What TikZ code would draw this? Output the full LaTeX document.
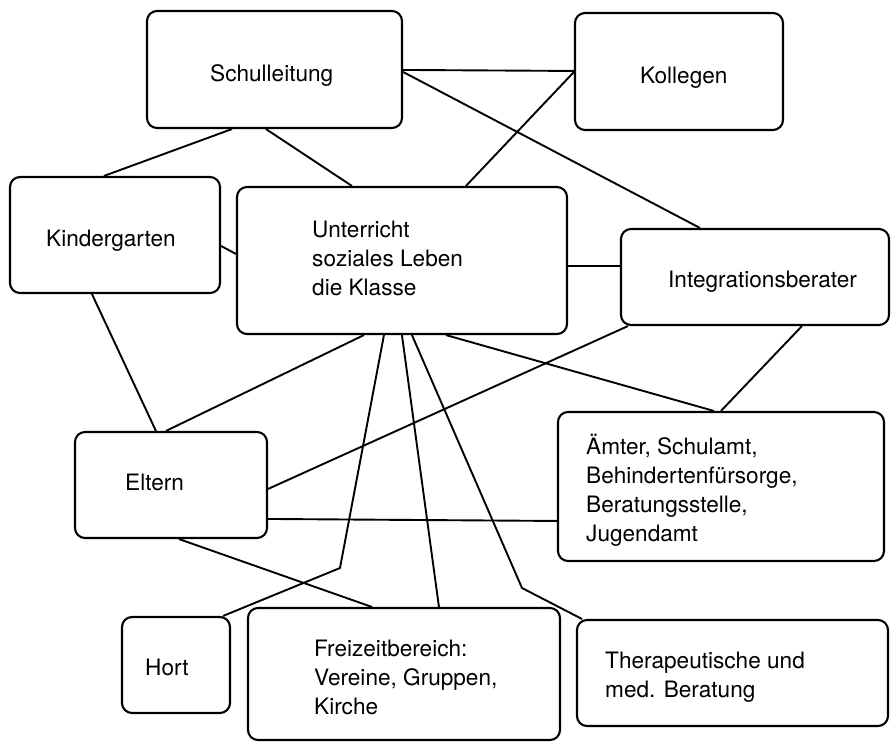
\documentclass[tikz,border=0pt]{standalone}
\usepackage{fontspec}
\setmainfont{TeX Gyre Heros}
\begin{document}
\begin{tikzpicture}[x=1pt,y=-1pt,
  box/.style={draw, line width=2.1pt, rounded corners=10pt, inner sep=0pt},
  lbl/.style={inner sep=0pt, align=left, anchor=base west,
    font=\fontsize{22.6}{28.7}\selectfont},
  link/.style={line width=1.9pt}]
% canvas
\fill[white] (0,0) rectangle (891,742);
\useasboundingbox (0,0) rectangle (891,742);

% boxes
\node[box, minimum width=255pt, minimum height=117pt] (schul)  at (274.5,69.5) {};
\node[box, minimum width=208pt, minimum height=117pt] (koll)   at (679,71.5) {};
\node[box, minimum width=210pt, minimum height=116pt] (kind)   at (115,235) {};
\node[box, minimum width=330pt, minimum height=147pt] (unt)    at (402,260.5) {};
\node[box, minimum width=268pt, minimum height=96pt]  (integ)  at (755,277) {};
\node[box, minimum width=192pt, minimum height=106pt] (eltern) at (171,485) {};
\node[box, minimum width=326pt, minimum height=149pt] (aemter) at (721,486.5) {};
\node[box, minimum width=108pt, minimum height=96pt]  (hort)   at (176,665) {};
\node[box, minimum width=312pt, minimum height=132pt] (frei)   at (404,674) {};
\node[box, minimum width=311pt, minimum height=106pt] (ther)   at (732.5,673) {};

% labels (multi-line labels are anchored on the baseline of their last line)
\node[lbl] (schulT)  at (210,81)  {Schulleitung};
\node[lbl] (kollT)   at (640,83)  {Kollegen};
\node[lbl] (kindT)   at (46,246)  {Kindergarten};
\node[lbl] (untT)    at (312,295) {Unterricht\\soziales Leben\\die Klasse};
\node[lbl] (integT)  at (668,287) {Integrationsberater};
\node[lbl] (elternT) at (125,490) {Eltern};
\node[lbl] (aemterT) at (586,541) {Ämter, Schulamt,\\Behindertenfürsorge,\\Beratungsstelle,\\Jugendamt};
\node[lbl] (hortT)   at (145,675) {Hort};
\node[lbl] (freiT)   at (314,714) {Freizeitbereich:\\Vereine, Gruppen,\\Kirche};
\node[lbl] (therT)   at (605,697) {Therapeutische und\\med. Beratung};

% bends of the two broken connectors
\coordinate (hortbend) at (340,568);
\coordinate (therbend) at (522,588);

% connectors
\draw[link] ([xshift=86pt]schul.south west) -- ([xshift=95pt]kind.north west);
\draw[link] ([xshift=120pt]schul.south west) -- ([xshift=116pt]unt.north west);
\draw[link] ([yshift=-70pt]kind.north east) -- ([yshift=-68pt]unt.north west);
\draw[link] ([xshift=83pt]kind.south west) -- ([xshift=82pt]eltern.north west);
\draw[link] ([yshift=-60pt]schul.north east) -- ([yshift=-59pt]koll.north west);
\draw[link] ([yshift=-62pt]schul.north east) -- ([xshift=80pt]integ.north west);
\draw[link] ([xshift=230pt]unt.north west) -- ([yshift=-60pt]koll.north west);
\draw[link] ([yshift=-80pt]unt.north east) -- ([yshift=-38pt]integ.north west);
\draw[link] ([xshift=8pt]integ.south west) -- ([yshift=-58pt]eltern.north east);
\draw[link] ([xshift=182pt]integ.south west) -- ([xshift=164pt]aemter.north west);
\draw[link] ([yshift=-88pt]eltern.north east) -- ([yshift=-110pt]aemter.north west);
\draw[link] ([xshift=128pt]unt.south west) -- ([xshift=92pt]eltern.north west);
\draw[link] ([xshift=210pt]unt.south west) -- ([xshift=157pt]aemter.north west);
\draw[link] ([xshift=148pt]unt.south west) -- (hortbend) -- ([xshift=-8pt]hort.north east);
\draw[link] ([xshift=166pt]unt.south west) -- ([xshift=192pt]frei.north west);
\draw[link] ([xshift=176pt]unt.south west) -- (therbend) -- ([xshift=6pt]ther.north west);
\draw[link] ([xshift=105pt]eltern.south west) -- ([xshift=125pt]frei.north west);
\end{tikzpicture}
\end{document}
